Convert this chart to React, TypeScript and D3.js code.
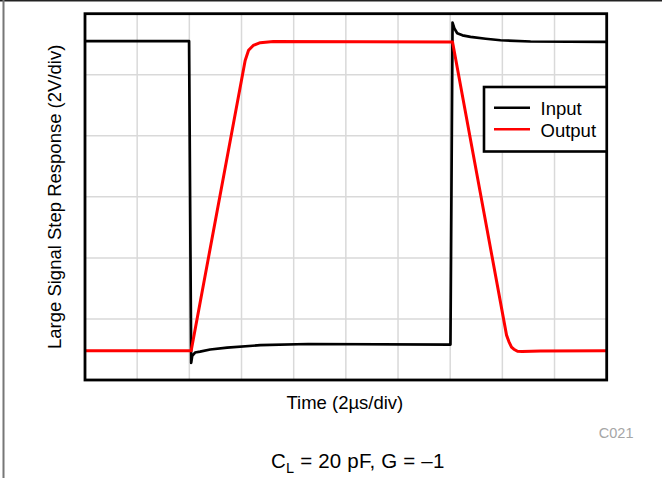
import React from "react";
import * as d3 from "d3";

// Time in µs (2 µs/div, 10 divisions), voltage in V (2 V/div, 6 divisions)
const inputT = [0, 3.97, 3.99, 4.07, 4.11, 4.22, 4.41, 4.8, 5.45, 6.72, 8.56, 13.99, 14.01, 14.09, 14.16, 14.27, 14.47, 14.78, 15.36, 15.93, 17.08, 20];
const inputV = [5.1, 5.1, 5.1, -5.44, -5.21, -5.1, -5.07, -5.0, -4.94, -4.86, -4.82, -4.84, -4.84, 5.71, 5.52, 5.36, 5.29, 5.24, 5.18, 5.13, 5.09, 5.08];

const outputT = [0, 4.07, 6.14, 6.27, 6.45, 6.72, 7.22, 14.09, 16.16, 16.25, 16.35, 16.44, 16.58, 16.76, 17.47, 20];
const outputV = [-5.04, -5.04, 4.47, 4.8, 4.96, 5.05, 5.09, 5.07, -4.53, -4.74, -4.92, -4.99, -5.06, -5.07, -5.05, -5.04];

const xDivisions = d3.range(0, 21, 2);
const yDivisions = d3.range(-6, 7, 2);

const legendItems = ["Input", "Output"];
const legendColors = ["#000000", "#ff0000"];

export default function App() {
  const left = 85, right = 606.7, top = 13.7, bottom = 380;
  const x = d3.scaleLinear().domain([0, 20]).range([left, right]);
  const y = d3.scaleLinear().domain([-6, 6]).range([bottom, top]);
  const lineLin = d3
    .line<[number, number]>()
    .x((d) => x(d[0]))
    .y((d) => y(d[1]));
  const inputPts = inputT.map((t, i) => [t, inputV[i]] as [number, number]);
  const outputPts = outputT.map((t, i) => [t, outputV[i]] as [number, number]);
  const font = "'Liberation Sans', Arial, Helvetica, sans-serif";

  return (
    <svg
      width={662}
      height={478}
      style={{ position: "absolute", left: 0, top: 0, background: "#fff" }}
      fontFamily={font}
    >
      {/* outer frame */}
      <line x1={0} x2={662} y1={0.75} y2={0.75} stroke="#222" strokeWidth={1.5} />
      <line x1={3.5} x2={3.5} y1={0} y2={478} stroke="#777" strokeWidth={2} />

      {/* grid */}
      {xDivisions.slice(1, -1).map((t) => (
        <line key={"gx" + t} x1={x(t)} x2={x(t)} y1={top} y2={bottom} stroke="#d9d9d9" strokeWidth={1.5} />
      ))}
      {yDivisions.slice(1, -1).map((v) => (
        <line key={"gy" + v} x1={left} x2={right} y1={y(v)} y2={y(v)} stroke="#d9d9d9" strokeWidth={1.5} />
      ))}

      {/* traces */}
      <path d={lineLin(inputPts) || ""} fill="none" stroke="#000" strokeWidth={2.7} strokeLinejoin="round" />
      <path d={lineLin(outputPts) || ""} fill="none" stroke="#ff0000" strokeWidth={3} strokeLinejoin="round" />

      {/* plot border */}
      <rect x={left} y={top} width={right - left} height={bottom - top} fill="none" stroke="#000" strokeWidth={2.8} />

      {/* legend */}
      <rect x={484} y={87} width={right - 484} height={64.5} fill="#fff" stroke="#000" strokeWidth={2.6} />
      {legendItems.map((name, i) => (
        <g key={name}>
          <line x1={494} x2={530} y1={107.7 + i * 21.5} y2={107.7 + i * 21.5} stroke={legendColors[i]} strokeWidth={2.6} />
          <text x={540.5} y={115 + i * 21.5} fontSize={18.5} fill="#000">
            {name}
          </text>
        </g>
      ))}

      {/* axis titles */}
      <text x={(left + right) / 2 - 1} y={409} fontSize={18.5} textAnchor="middle" fill="#000">
        Time (2µs/div)
      </text>
      <text
        transform={`translate(61,${(top + bottom) / 2}) rotate(-90)`}
        fontSize={18.5}
        textAnchor="middle"
        fill="#000"
      >
        Large Signal Step Response (2V/div)
      </text>

      <text x={633.5} y={438.3} fontSize={14.5} textAnchor="end" fill="#a6a6a6">
        C021
      </text>

      <text x={271} y={468.3} fontSize={20.5} letterSpacing={0.2} fill="#000">
        C<tspan fontSize={14.5} dy={5}>L</tspan>
        <tspan dy={-5}> = 20 pF, G = –1</tspan>
      </text>
    </svg>
  );
}
